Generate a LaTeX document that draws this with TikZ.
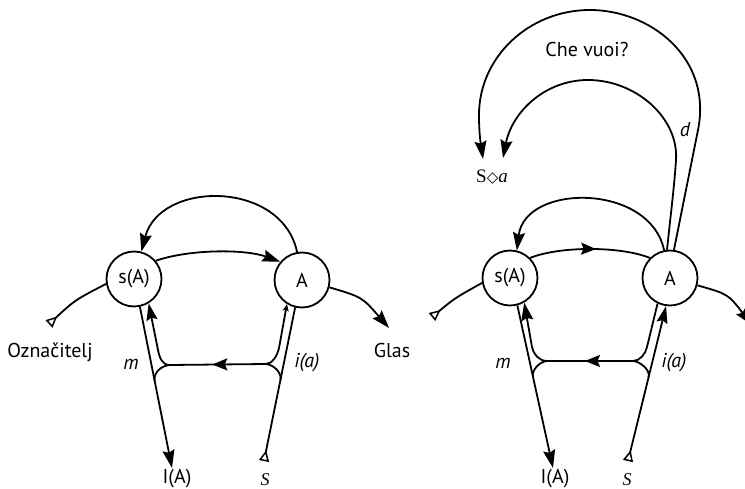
\documentclass[tikz,border=0pt]{standalone}
\usepackage{fontspec}
\setmainfont{PT Sans}
\newfontfamily\serifS{Liberation Serif}
\newfontfamily\symS{DejaVu Sans}
\usetikzlibrary{arrows.meta,decorations.markings}

\begin{document}
\begin{tikzpicture}[x=1pt,y=-1pt,
  conn/.style={line width=1.8pt, draw=black},
  vertex/.style={circle, draw, line width=1.8pt, minimum size=55pt, inner sep=0pt,
    font=\fontsize{20}{20}\selectfont},
  lbl/.style={font=\fontsize{20}{20}\selectfont, inner sep=0pt},
  ilbl/.style={font=\fontsize{20}{20}\selectfont\itshape, inner sep=0pt},
  slbl/.style={font=\serifS\fontsize{18}{18}\selectfont\itshape, inner sep=0pt},
  headend/.style={-{Stealth[length=18pt,width=12pt,inset=2.5pt]}},
  tailstart/.style={{Triangle[open,reversed,length=11pt,width=10pt,line width=1.5pt]}-},
  tailhead/.style={{Triangle[open,reversed,length=11pt,width=10pt,line width=1.5pt]}-{Stealth[length=17pt,width=11pt,inset=2.5pt]}},
  smallhead/.style={{Stealth[length=7pt,width=6pt,inset=1.5pt]}-{Stealth[length=17pt,width=11pt,inset=2.5pt]}},
  midarr/.style={postaction={decorate, decoration={markings,
    mark=at position #1 with {\arrow{Stealth[length=15pt,width=12pt,inset=2.5pt]}}}}}
]
\useasboundingbox (0,0) rectangle (745,489);

% ---------------- first graph ----------------
\node[vertex] (sA1) at (134,279) {s(A)};
\node[vertex] (A1) at (302,280) {A};

\coordinate (oz1) at (49,324);
\coordinate (gl1) at (389,328);
\coordinate (ia1) at (172,468);
\coordinate (s1) at (264,461);
\coordinate (jl1) at (170,365);
\coordinate (jr1) at (266,364);
\coordinate (ml1) at (154.7,381);
\coordinate (mr1) at (280.4,380);

% signifying chain
\draw[conn, tailstart] (oz1) .. controls (75,300) .. (sA1.190);
\draw[conn, headend] (sA1.40) .. controls (190,249) and (245,249) .. (A1.140);
\draw[conn, headend] (A1.-15) .. controls (362,297) .. (gl1);
% retroversion
\draw[conn, headend] (A1.100) .. controls (282,180) and (160,180) .. (sA1.75);
% subject vector
\draw[conn, tailstart] (s1) -- (A1.-104);
\draw[conn, headend] (sA1.-78) -- (ia1);
% imaginary circuit
\draw[conn, smallhead, midarr=0.52] (A1.-122) -- (279,348)
  .. controls (277.4,355.8) and (272,364) .. (jr1) -- (jl1)
  .. controls (162,365) and (159.6,357.8) .. (158,350) -- (sA1.-59);
\draw[conn] (jl1) .. controls (161,365.5) and (153.1,373.2) .. (ml1);
\draw[conn] (jr1) .. controls (273,364.5) and (282,372.2) .. (mr1);

\node[lbl] (ozn) at (50,352) {Označitelj};
\node[lbl] (glas) at (392,350) {Glas};
\node[ilbl] (m1) at (131,364) {m};
\node[ilbl] (ia1l) at (307,363) {i(a)};
\node[lbl] (IA1) at (177,479) {I(A)};
\node[slbl] (S1) at (265,480) {S};

% ---------------- second graph ----------------
\node[vertex] (sA2) at (510,278) {s(A)};
\node[vertex] (A2) at (670,278) {A};

\coordinate (oz2) at (432,317);
\coordinate (gl2) at (752,325);
\coordinate (ia2) at (553,468);
\coordinate (s2) at (628,461);
\coordinate (jl2) at (547,361);
\coordinate (jr2) at (633,361);
\coordinate (ml2) at (533,377);
\coordinate (mr2) at (648.6,377);
\coordinate (sd1) at (503,158);
\coordinate (sd2) at (483,159);

\draw[conn, tailstart] (oz2) .. controls (455,298) .. (sA2.190);
\draw[conn, midarr=0.55] (sA2.45) .. controls (560,246) and (620,246) .. (A2.135);
\draw[conn, headend] (A2.-15) .. controls (728,294) .. (gl2);
\draw[conn, headend] (A2.102) .. controls (650,183) and (525,183) .. (sA2.76);
\draw[conn, tailhead] (s2) -- (A2.-98);
\draw[conn, headend] (sA2.-75) -- (ia2);
\draw[conn, headend, midarr=0.52] (A2.-116) -- (647,347)
  .. controls (645.5,353.8) and (640,361) .. (jr2) -- (jl2)
  .. controls (539,361) and (533.2,353.9) .. (532,347) -- (sA2.-60);
\draw[conn] (jl2) .. controls (540,361.5) and (531.4,369.7) .. (ml2);
\draw[conn] (jr2) .. controls (640,361.5) and (650.4,369.7) .. (mr2);

% the question arcs
\draw[conn, headend] (A2.96) .. controls (670,220) and (674,190) .. (676,160)
  .. controls (678.8,118) and (636,80) .. (588,80)
  .. controls (545,80) and (512,112) .. (sd1);
\draw[conn, headend] (A2.82) -- (698,130)
  .. controls (712.5,57.5) and (650,10) .. (590,10)
  .. controls (529,10) and (479,57) .. (479,115)
  .. controls (479,135) and (481,145) .. (sd2);

\node[lbl] (chevuoi) at (587,50) {Che vuoi?};
\node[ilbl] (dl) at (685,130) {d};
\node[inner sep=0pt] (sdiam) at (492,177)
  {\serifS\fontsize{19}{19}\selectfont S\symS\fontsize{15}{15}\selectfont◇\serifS\itshape\fontsize{19}{19}\selectfont a};
\node[ilbl] (m2) at (503,363) {m};
\node[ilbl] (ia2l) at (674,363) {i(a)};
\node[lbl] (IA2) at (555,479) {I(A)};
\node[slbl] (S2) at (627,480) {S};
\end{tikzpicture}
\end{document}
